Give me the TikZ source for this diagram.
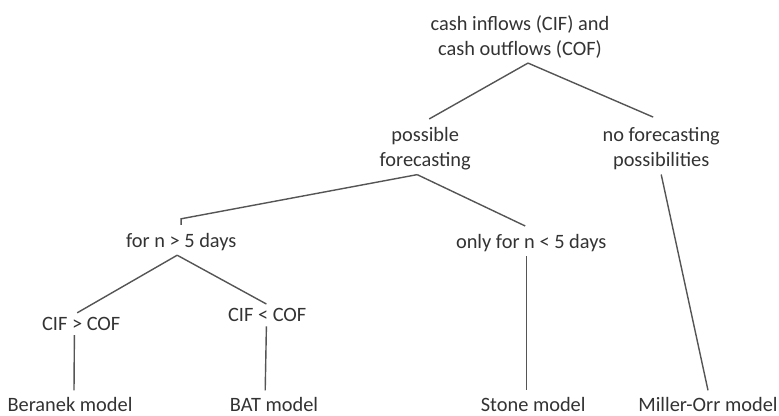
\documentclass[tikz,border=0pt]{standalone}
\usepackage{fontspec}
\setmainfont{Carlito}
\usepackage{xcolor}
\usetikzlibrary{positioning,calc}
\definecolor{inkgray}{HTML}{333333}
\definecolor{linegray}{HTML}{555555}

\begin{document}
\begin{tikzpicture}[
  font=\fontsize{14.5}{17.8}\selectfont,
  leaf/.style={text=inkgray, align=center, inner sep=3pt},
  branch/.style={draw=linegray, line width=1pt}
]
  \useasboundingbox (0,0) rectangle (19.475,-10.4);

  % LEVEL 0: root
  \node[leaf] (root) at (13.0, -0.93) {cash inflows (CIF) and\\cash outflows (COF)};

  % LEVEL 1: forecasting or not
  \node[leaf] (poss) at (10.63, -3.72) {possible\\forecasting};
  \node[leaf] (nofc) at (16.53, -3.72) {no forecasting\\possibilities};

  % LEVEL 2: horizon
  \node[leaf] (gt5) at (4.53, -6.05) {for n > 5 days};
  \node[leaf] (lt5) at (13.28, -6.08) {only for n < 5 days};

  % LEVEL 3: flow relation
  \node[leaf] (cifgt) at (2.03, -8.1) {CIF > COF};
  \node[leaf] (ciflt) at (6.68, -7.88) {CIF < COF};

  % LEVEL 4: models
  \node[leaf] (beranek) at (1.75, -10.1) {Beranek model};
  \node[leaf] (bat) at (6.85, -10.1) {BAT model};
  \node[leaf] (stone) at (13.33, -10.1) {Stone model};
  \node[leaf] (miller) at (17.7, -10.1) {Miller-Orr model};

  % Branches
  \draw[branch] ([xshift=0.2cm]root.south) -- ([xshift=0.1cm,yshift=0.1cm]poss.north);
  \draw[branch] ([xshift=0.2cm]root.south) -- ([xshift=-0.2cm,yshift=0.15cm]nofc.north);
  \draw[branch] ([xshift=-0.2cm]poss.south) -- ([yshift=0.25cm]gt5.north) -- ([yshift=0.1cm]gt5.north);
  \draw[branch] ([xshift=-0.2cm]poss.south) -- ([xshift=-0.15cm,yshift=0.1cm]lt5.north);
  \draw[branch] ([xshift=-0.1cm]gt5.south) -- ([xshift=-0.1cm]cifgt.north);
  \draw[branch] ([xshift=-0.1cm]gt5.south) -- ([xshift=-0.02cm]ciflt.north);
  \draw[branch] ([xshift=-0.17cm]cifgt.south) -- ([xshift=0.1cm,yshift=0.05cm]beranek.north);
  \draw[branch] ([xshift=-0.02cm]ciflt.south) -- ([xshift=-0.22cm,yshift=0.05cm]bat.north);
  \draw[branch] ([xshift=-0.12cm]lt5.south) -- ([xshift=-0.17cm,yshift=0.05cm]stone.north);
  \draw[branch] (nofc.south) -- ([yshift=0.05cm]miller.north);

\end{tikzpicture}
\end{document}
